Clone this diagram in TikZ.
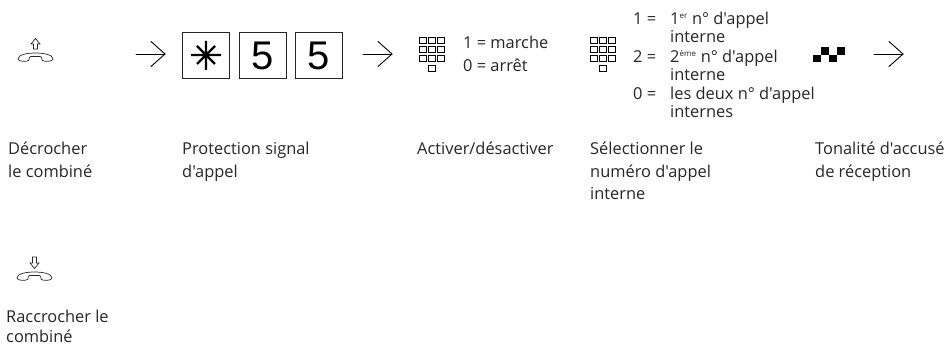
\documentclass[tikz,border=0pt]{standalone}
\usepackage{fontspec}
\newfontfamily\labfont{Open Sans}
\usetikzlibrary{arrows.meta}
\tikzset{
 lab/.style={font=\labfont\fontsize{16.4pt}{23pt}\selectfont,anchor=base west,align=left,inner sep=0pt,text=black!85},
 opt/.style={font=\labfont\fontsize{16.4pt}{23pt}\selectfont,anchor=base west,inner sep=0pt,text=black!85},
 keybox/.style={draw=black!85,line width=.9pt,minimum width=47pt,minimum height=46pt,inner sep=0pt,anchor=north west},
 digit/.style={font=\fontsize{40pt}{40pt}\selectfont\fontspec{Liberation Sans},inner sep=0pt},
 arr/.style={line width=.9pt,line cap=round},
 phonestyle/.style={draw=black!85,line width=.7pt,fill=white},
 padkey/.style={draw=black,line width=.6pt}
}
\newcommand{\rarrow}[2]{%
 \draw[arr] (#1,#2) -- ++(29,0);
 \draw[arr] (#1+15,#2-12.5) -- (#1+29,#2) -- (#1+15,#2+12.5);}
\newcommand{\keypad}[2]{%
 \foreach \r in {0,1,2} \foreach \c in {0,1,2}
  \draw[padkey] (#1+\c*9.1,#2+\r*9) rectangle ++(7,6.8);
 \draw[padkey] (#1+9.1,#2+28) rectangle ++(7,6.8);}
\newcommand{\handset}[2]{%
 \draw[phonestyle] (#1,#2+6)
  .. controls (#1,#2+1.5) and (#1+10,#2) .. (#1+17.5,#2)
  .. controls (#1+25,#2) and (#1+35,#2+1.5) .. (#1+35,#2+6)
  .. controls (#1+35,#2+9) and (#1+25,#2+9) .. (#1+24,#2+7)
  .. controls (#1+24,#2+4.5) and (#1+24,#2+3.5) .. (#1+22,#2+3.5)
  -- (#1+13,#2+3.5)
  .. controls (#1+11,#2+3.5) and (#1+11,#2+4.5) .. (#1+11,#2+7)
  .. controls (#1+10,#2+9) and (#1,#2+9) .. (#1,#2+6) -- cycle;}
\begin{document}
\begin{tikzpicture}[x=1pt,y=-1pt]
\useasboundingbox (0,0) rectangle (952,344);
% phones
\handset{18}{53}
\draw[phonestyle] (33.5,49) -- (33.5,44) -- (31,44) -- (35.5,38.5) -- (40,44) -- (37.5,44) -- (37.5,49) -- cycle;
\handset{17}{272}
\draw[phonestyle] (32.5,257) -- (32.5,263) -- (30,263) -- (34.5,268.5) -- (39,263) -- (36.5,263) -- (36.5,257) -- cycle;
% arrows
\rarrow{136}{54}
\rarrow{363}{54}
\rarrow{874}{54}
% key boxes
\node[keybox] (k1) at (182,32) {};
\node[keybox] (k2) at (239,32) {};
\node[keybox] (k3) at (294.5,32) {};
\draw[line width=2.2pt] (206,41) -- (206,70) (191,55) -- (221,55) (197,46) -- (215,64) (215,46) -- (197,64);
\node[digit] at (k2.center) {5};
\node[digit] at (k3.center) {5};
% keypads
\keypad{419}{37}
\keypad{590}{37}
% options
\node[opt] at (463,49) {1 = marche};
\node[opt] at (463,72) {0 = arrêt};
\node[opt] at (633,25) {1 =};
\node[opt] at (670,25) {1\textsuperscript{\fontsize{8pt}{8pt}\selectfont er} n° d'appel};
\node[opt] at (670,43) {interne};
\node[opt] at (633,63) {2 =};
\node[opt] at (670,63) {2\textsuperscript{\fontsize{8pt}{8pt}\selectfont ème} n° d'appel};
\node[opt] at (670,81) {interne};
\node[opt] at (633,100) {0 =};
\node[opt] at (670,100) {les deux n° d'appel};
\node[opt] at (670,118) {internes};
% tone
\fill (813,55) rectangle ++(8,7);
\fill (821,47) rectangle ++(8,8);
\fill (829,55) rectangle ++(8,7);
\fill (837,47) rectangle ++(8,8);
% labels
\node[lab] at (8,155) {Décrocher};
\node[lab] at (8,178) {le combiné};
\node[lab] at (182,155) {Protection signal};
\node[lab] at (182,178) {d'appel};
\node[lab] at (417,155) {Activer/désactiver};
\node[lab] at (590,155) {Sélectionner le};
\node[lab] at (590,178) {numéro d'appel};
\node[lab] at (590,200) {interne};
\node[lab] at (815,155) {Tonalité d'accusé};
\node[lab] at (815,178) {de réception};
\node[lab] at (6,322) {Raccrocher le};
\node[lab] at (6,342) {combiné};
\end{tikzpicture}
\end{document}
